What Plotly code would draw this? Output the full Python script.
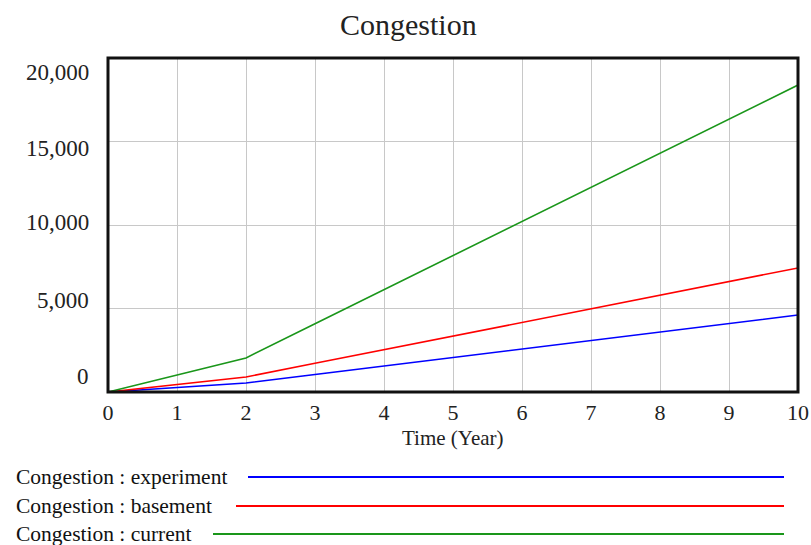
import plotly.graph_objects as go

years = [0, 1, 2, 3, 4, 5, 6, 7, 8, 9, 10]
experiment = [0, 270, 540, 1050, 1560, 2065, 2575, 3085, 3590, 4100, 4610]
basement = [0, 450, 900, 1716, 2530, 3350, 4165, 4980, 5800, 6615, 7430]
current = [0, 1020, 2040, 4085, 6130, 8170, 10210, 12260, 14300, 16340, 18380]

series_names = ["Congestion : experiment", "Congestion : basement", "Congestion : current"]
series_colors = ["#0000ff", "#ff0000", "#1a961a"]
series_values = [experiment, basement, current]

y_tick_vals = [0, 5000, 10000, 15000, 20000]
y_tick_text = ["0", "5,000", "10,000", "15,000", "20,000"]
x_tick_vals = list(range(0, 11))

W, H = 811, 545
L, R, T, B = 108, 798, 58, 392
PW, PH = R - L, B - T
FONT = "Liberation Serif"
TXT = "#222222"

def px(x):
    return (x - L) / PW

def py(y):
    return (B - y) / PH

fig = go.Figure()
for name, color, vals in zip(series_names, series_colors, series_values):
    fig.add_trace(go.Scatter(x=years, y=vals, mode="lines", name=name,
                             line=dict(color=color, width=1.6), showlegend=False))

fig.update_layout(
    width=W, height=H,
    margin=dict(l=L, r=W - R, t=T, b=H - B, autoexpand=False),
    paper_bgcolor="white", plot_bgcolor="white",
    font=dict(family=FONT, color=TXT, size=22),
    xaxis=dict(range=[0, 10], tickvals=x_tick_vals, showgrid=True, gridcolor="#c8c8c8",
               gridwidth=1.2, zeroline=False, ticks="", showline=False,
               automargin=False, ticklabelstandoff=5,
               tickfont=dict(size=22, color=TXT)),
    yaxis=dict(range=[0, 20000], tickvals=y_tick_vals, showticklabels=False,
               showgrid=True, gridcolor="#c8c8c8", gridwidth=1.2, zeroline=False,
               ticks="", showline=False, automargin=False),
)

# title
fig.add_annotation(text="Congestion", xref="paper", yref="paper", x=px(408), y=py(25),
                   xanchor="center", yanchor="middle", showarrow=False,
                   font=dict(size=30, color=TXT))

# x axis title
fig.add_annotation(text="Time (Year)", xref="paper", yref="paper", x=px(453), y=py(438),
                   xanchor="center", yanchor="middle", showarrow=False,
                   font=dict(size=21, color=TXT))

# plot frame
fig.add_shape(type="rect", xref="paper", yref="paper", x0=0, x1=1, y0=0, y1=1,
              line=dict(color="#111111", width=3), layer="above")

# y tick labels (Vensim-style, spread evenly from bottom to top)
label_y = [376, 300, 223, 148, 73]
for txt, ypix in zip(y_tick_text, label_y):
    fig.add_annotation(text=txt, xref="paper", yref="paper", x=px(91), y=py(ypix),
                       xanchor="right", yanchor="middle", showarrow=False,
                       font=dict(size=23, color=TXT))

# legend below
leg_y = [477, 506, 534]
leg_x0 = [248, 236, 213]
for name, color, ly, lx in zip(series_names, series_colors, leg_y, leg_x0):
    fig.add_annotation(text=name, xref="paper", yref="paper", x=px(14), y=py(ly),
                       xanchor="left", yanchor="middle", showarrow=False,
                       font=dict(size=21.5, color="#111111"))
    fig.add_shape(type="line", xref="paper", yref="paper", x0=px(lx), x1=px(784),
                  y0=py(ly), y1=py(ly), line=dict(color=color, width=2))

fig.write_html("out.html", config={"displayModeBar": False},
               post_script="document.body.style.margin='0';document.body.style.overflow='hidden';")
